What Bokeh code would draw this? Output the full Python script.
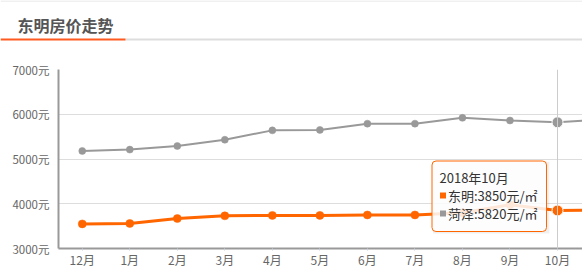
from bokeh.plotting import figure
from bokeh.models import Range1d, FixedTicker, PrintfTickFormatter, Span, BoxAnnotation, Label
from bokeh.layouts import column
from bokeh.core.properties import value
from bokeh.embed import file_html
from bokeh.resources import INLINE

# ---- data ----
months = ["12月", "1月", "2月", "3月", "4月", "5月", "6月", "7月", "8月", "9月", "10月", "11月"]
dongming = [3550, 3560, 3670, 3730, 3740, 3740, 3750, 3750, 3800, 3980, 3850, 3855]
heze = [5180, 5210, 5290, 5430, 5640, 5650, 5790, 5790, 5920, 5860, 5820, 5890]
y_ticks = [3000, 4000, 5000, 6000, 7000]
title_text = "东明房价走势"
hover_month = "10月"
tip_title = "2018年10月"
tip_unit = "元/㎡"

FONT = "Noto Sans CJK SC"
ORANGE = "#ff6600"
GRAY = "#999999"

W = 582
HEAD_H = 50
MAIN_H = 230

# ---- header ----
h = figure(width=W, height=HEAD_H, output_backend="svg", toolbar_location=None,
           x_range=Range1d(0, W), y_range=Range1d(HEAD_H, 0),
           min_border=0, outline_line_color=None, frame_align=False)
h.axis.visible = False
h.grid.visible = False
h.segment(x0=[0], y0=[0.5], x1=[W], y1=[0.5], line_color="#e2e2e2", line_width=1)
h.segment(x0=[125], y0=[39], x1=[W], y1=[39], line_color="#dddddd", line_width=2)
h.segment(x0=[0], y0=[39], x1=[125], y1=[39], line_color="#ff5a1f", line_width=2)
h.text(x=[17], y=[24], text=[title_text], text_font=value(FONT), text_font_size="16px",
       text_font_style="bold", text_color="#555555", text_baseline="middle", text_align="left")

# ---- main chart ----
xs = list(range(len(months)))
x_start, x_end = -0.5, 10.526
y_start, y_end = 3000, 7000
TOP, BOTTOM, LEFT = 19, 32, 58
frame_w = W - LEFT
frame_h = MAIN_H - TOP - BOTTOM

p = figure(width=W, height=MAIN_H, output_backend="svg", toolbar_location=None,
           x_range=Range1d(x_start, x_end), y_range=Range1d(y_start, y_end),
           min_border_left=LEFT, min_border_right=0, min_border_top=TOP,
           min_border_bottom=BOTTOM, outline_line_color=None, frame_align=False)

p.xgrid.visible = False
p.ygrid.grid_line_color = "#dddddd"
p.ygrid.ticker = FixedTicker(ticks=y_ticks)

p.yaxis.ticker = FixedTicker(ticks=y_ticks)
p.yaxis.formatter = PrintfTickFormatter(format="%d元")
p.yaxis.axis_line_color = GRAY
p.yaxis.axis_line_width = 2
p.yaxis.major_tick_line_color = None
p.yaxis.minor_tick_line_color = None
p.yaxis.major_label_text_font = FONT
p.yaxis.major_label_text_font_size = "11.5px"
p.yaxis.major_label_text_color = "#666666"
p.yaxis.major_label_standoff = 3

p.xaxis.ticker = FixedTicker(ticks=xs)
p.xaxis.major_label_overrides = {i: m for i, m in enumerate(months)}
p.xaxis.axis_line_color = GRAY
p.xaxis.axis_line_width = 2
p.xaxis.major_tick_line_color = "#c8d0dc"
p.xaxis.major_tick_in = 0
p.xaxis.major_tick_out = 2
p.xaxis.minor_tick_line_color = None
p.xaxis.major_label_text_font = FONT
p.xaxis.major_label_text_font_size = "12px"
p.xaxis.major_label_text_color = "#666666"
p.xaxis.major_label_standoff = 0

hi = months.index(hover_month)
p.add_layout(Span(location=hi, dimension="height", line_color="#cccccc", line_width=1))

# lines with white halo
p.line(xs, heze, line_color="white", line_width=4)
p.line(xs, heze, line_color=GRAY, line_width=2)
p.line(xs, dongming, line_color="white", line_width=5)
p.line(xs, dongming, line_color=ORANGE, line_width=3)
p.scatter(xs, heze, size=7, fill_color=GRAY, line_color=GRAY, line_width=0.5)
p.scatter(xs, dongming, size=8, fill_color=ORANGE, line_color=ORANGE, line_width=0.5)
p.scatter([hi], [heze[hi]], size=11, fill_color=GRAY, line_color="white", line_width=1)
p.scatter([hi], [dongming[hi]], size=11, fill_color=ORANGE, line_color="white", line_width=1)

# ---- tooltip (positioned in pixels relative to frame) ----
def px_to_data(px_x, px_y):
    # px_x, px_y in page pixels (main figure starts at HEAD_H)
    fx = px_x - LEFT
    fy = px_y - HEAD_H - TOP
    dx = x_start + fx / frame_w * (x_end - x_start)
    dy = y_end - fy / frame_h * (y_end - y_start)
    return dx, dy

l, t = px_to_data(431.5, 160.5)
r, b = px_to_data(546, 231)
p.add_layout(BoxAnnotation(left=l + 0.02, right=r + 0.06, top=t - 15, bottom=b - 45,
                           fill_color="#000000", fill_alpha=0.06, line_color=None))
p.add_layout(BoxAnnotation(left=l, right=r, top=t, bottom=b, fill_color="white",
                           fill_alpha=0.85, line_color=ORANGE, line_alpha=1.0, line_width=1,
                           border_radius=4))

tx, ty1 = px_to_data(439, 177)
_, ty2 = px_to_data(439, 195)
_, ty3 = px_to_data(439, 213)
sqx, _ = px_to_data(442.5, 0)
t2x, _ = px_to_data(447.5, 0)

p.add_layout(Label(x=tx, y=ty1, text=tip_title, text_font=FONT, text_font_size="13px",
                   text_color="#333333", text_baseline="middle", text_align="left"))
p.scatter([sqx], [ty2], marker="square", size=6, fill_color=ORANGE, line_color=None,
          level="overlay")
p.scatter([sqx], [ty3], marker="square", size=6, fill_color=GRAY, line_color=None,
          level="overlay")
p.add_layout(Label(x=t2x, y=ty2, text="东明:%d%s" % (dongming[hi], tip_unit), text_font=FONT,
                   text_font_size="13px", text_color="#333333", text_baseline="middle",
                   text_align="left"))
p.add_layout(Label(x=t2x, y=ty3, text="菏泽:%d%s" % (heze[hi], tip_unit), text_font=FONT,
                   text_font_size="13px", text_color="#333333", text_baseline="middle",
                   text_align="left"))

layout = column(h, p, spacing=0)
open("out.html", "w").write(file_html(layout, INLINE))
